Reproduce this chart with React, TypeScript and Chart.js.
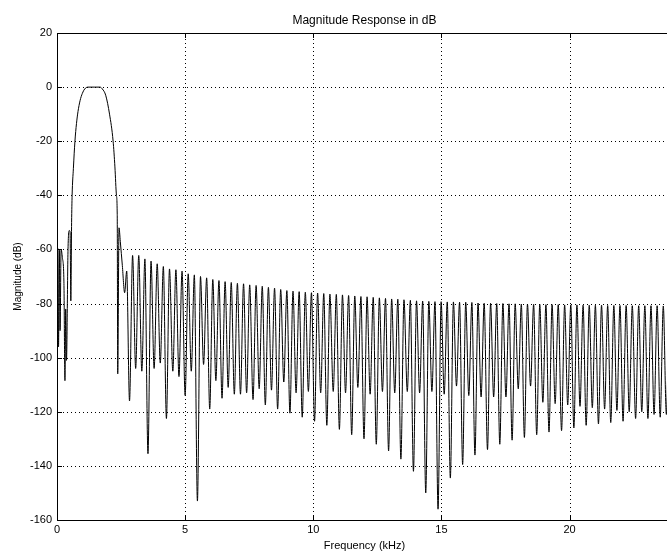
import React, { useEffect, useRef } from "react";
import { Chart, registerables } from "chart.js";

Chart.register(...registerables);

const chartTitle = "Magnitude Response in dB";
const xTitle = "Frequency (kHz)";
const yTitle = "Magnitude (dB)";
const xTicks = [0, 5, 10, 15, 20];
const yTicks = [20, 0, -20, -40, -60, -80, -100, -120, -140, -160];

// passband and the region around it (kHz / dB)
const mainFreq = [
  0.0, 0.03, 0.06, 0.09, 0.12, 0.16, 0.21, 0.27, 0.31, 0.34, 0.37, 0.43, 0.48, 0.51,
  0.54, 0.57, 0.59, 0.64, 0.7, 0.76, 0.82, 0.9, 0.99, 1.08, 1.2, 1.45, 1.68, 1.77,
  1.9, 2.05, 2.19, 2.26, 2.32, 2.35, 2.37, 2.42, 2.47, 2.55, 2.64, 2.72,
];
const mainDb = [
  -60.5, -59.5, -96, -60, -90, -60, -63, -72, -108.5, -82, -101, -60, -53, -53.5,
  -79, -50, -40, -30, -20, -13.5, -9, -5, -2.3, -0.7, 0, 0, 0, -0.7,
  -3, -10, -20, -29.5, -40, -47, -106, -52, -57, -66, -76, -68,
];

// stopband nulls (kHz / dB)
const nullFreq = [
  2.83, 3.07, 3.31, 3.55, 3.79, 4.03, 4.27, 4.52, 4.76, 5.0, 5.24, 5.48, 5.72, 5.96,
  6.2, 6.44, 6.68, 6.92, 7.16, 7.4, 7.65, 7.89, 8.13, 8.37, 8.61, 8.85, 9.09, 9.33,
  9.57, 9.81, 10.05, 10.29, 10.53, 10.78, 11.02, 11.26, 11.5, 11.74, 11.98, 12.22, 12.46, 12.7,
  12.94, 13.18, 13.42, 13.67, 13.91, 14.15, 14.39, 14.63, 14.87, 15.11, 15.35, 15.59, 15.83, 16.07,
  16.31, 16.55, 16.8, 17.04, 17.28, 17.52, 17.76, 18.0, 18.24, 18.48, 18.72, 18.96, 19.2, 19.44,
  19.69, 19.93, 20.17, 20.41, 20.65, 20.89, 21.13, 21.37, 21.61, 21.85, 22.09, 22.33, 22.58, 22.82,
  23.06, 23.3, 23.54, 23.78, 24.02,
];
const nullDb = [
  -116, -104, -105, -135.5, -104, -102, -122.5, -105, -107, -114, -105, -153, -102.5, -119,
  -108.5, -115, -111, -113.5, -113.5, -113, -115.5, -111.5, -117.5, -112, -119, -109, -120.5, -113,
  -122, -112.5, -123.5, -113, -125, -112.5, -126.5, -113, -128.5, -111, -130, -113.5, -132, -112.5,
  -134.5, -113, -137.5, -112.5, -142, -113, -150, -112.5, -156, -113.5, -144.5, -110.5, -139.5, -114,
  -136, -114.5, -134, -114.5, -132, -114.5, -130.5, -111.5, -129.5, -110.5, -128.5, -116.5, -127.5, -117,
  -127, -117.5, -126, -118, -125, -118.5, -124.5, -119, -124, -119.5, -123.5, -120, -122.5, -120,
  -122.5, -121, -122, -121, -121.5,
];

// stopband lobe peaks (kHz / dB)
const peakFreq = [
  2.95, 3.19, 3.43, 3.67, 3.91, 4.15, 4.39, 4.64, 4.88, 5.12, 5.36, 5.6, 5.84, 6.08,
  6.32, 6.56, 6.8, 7.04, 7.28, 7.52, 7.77, 8.01, 8.25, 8.49, 8.73, 8.97, 9.21, 9.45,
  9.69, 9.93, 10.17, 10.41, 10.65, 10.9, 11.14, 11.38, 11.62, 11.86, 12.1, 12.34, 12.58, 12.82,
  13.06, 13.3, 13.54, 13.79, 14.03, 14.27, 14.51, 14.75, 14.99, 15.23, 15.47, 15.71, 15.95, 16.19,
  16.43, 16.67, 16.92, 17.16, 17.4, 17.64, 17.88, 18.12, 18.36, 18.6, 18.84, 19.08, 19.32, 19.56,
  19.81, 20.05, 20.29, 20.53, 20.77, 21.01, 21.25, 21.49, 21.73, 21.97, 22.21, 22.45, 22.7, 22.94,
  23.18, 23.42, 23.66, 23.9,
];
const peakDb = [
  -62.2, -62.2, -63.5, -64.3, -65.3, -66.3, -67.2, -67.5, -68, -69, -69.4, -70, -70.5, -71.1,
  -71.5, -71.9, -72.2, -72.5, -72.7, -73.1, -73.3, -73.6, -74, -74.3, -74.8, -75.2, -75.4, -75.6,
  -75.8, -76, -76.1, -76.3, -76.5, -76.6, -76.8, -77, -77.2, -77.4, -77.5, -77.7, -77.9, -78.1,
  -78.3, -78.4, -78.6, -78.8, -79, -79.1, -79.2, -79.3, -79.3, -79.4, -79.4, -79.5, -79.5, -79.6,
  -79.8, -79.9, -79.9, -80, -80, -80.1, -80.1, -80.2, -80.2, -80.3, -80.3, -80.4, -80.4, -80.4,
  -80.5, -80.5, -80.5, -80.6, -80.6, -80.6, -80.6, -80.7, -80.7, -80.7, -80.7, -80.8, -80.8, -80.8,
  -80.8, -80.8, -80.9, -80.9,
];

const FONT = "'Liberation Sans', Arial, Helvetica, sans-serif";

const framePlugin = {
  id: "matlabFrame",
  beforeDatasetsDraw(chart: any) {
    const { ctx, chartArea, scales } = chart;
    const { left, right, top, bottom } = chartArea;
    ctx.save();
    ctx.fillStyle = "#000";
    for (const v of yTicks) {
      const py = Math.round(scales.y.getPixelForValue(v));
      if (py <= top + 1 || py >= bottom - 1) continue;
      for (let x = Math.round(left) + 2; x < right; x += 4) ctx.fillRect(x, py, 1, 1);
    }
    for (const v of xTicks) {
      const px = Math.round(scales.x.getPixelForValue(v));
      if (px <= left + 1 || px >= right - 1) continue;
      for (let y = Math.round(top) + 2; y < bottom; y += 4) ctx.fillRect(px, y, 1, 1);
    }
    ctx.restore();
  },
  afterDatasetsDraw(chart: any) {
    const { ctx, chartArea, scales } = chart;
    const L = Math.round(chartArea.left);
    const R = Math.round(chartArea.right);
    const T = Math.round(chartArea.top);
    const B = Math.round(chartArea.bottom);
    ctx.save();
    ctx.strokeStyle = "#000";
    ctx.lineWidth = 1;
    ctx.beginPath();
    ctx.rect(L + 0.5, T + 0.5, R - L, B - T);
    ctx.stroke();
    const tl = 5;
    ctx.beginPath();
    for (const v of xTicks) {
      const px = Math.round(scales.x.getPixelForValue(v)) + 0.5;
      ctx.moveTo(px, B);
      ctx.lineTo(px, B - tl);
      ctx.moveTo(px, T);
      ctx.lineTo(px, T + tl);
    }
    for (const v of yTicks) {
      const py = Math.round(scales.y.getPixelForValue(v)) + 0.5;
      ctx.moveTo(L, py);
      ctx.lineTo(L + tl, py);
      ctx.moveTo(R, py);
      ctx.lineTo(R - tl, py);
    }
    ctx.stroke();
    ctx.restore();
  },
  afterDraw(chart: any) {
    const { ctx, chartArea } = chart;
    const cx = (chartArea.left + chartArea.right) / 2;
    const cy = (chartArea.top + chartArea.bottom) / 2;
    ctx.save();
    ctx.fillStyle = "#000";
    ctx.textAlign = "center";
    ctx.textBaseline = "middle";
    ctx.font = `12px ${FONT}`;
    ctx.fillText(chartTitle, cx, 21);
    ctx.font = `11px ${FONT}`;
    ctx.fillText(xTitle, cx, 546);
    ctx.translate(18, cy);
    ctx.rotate(-Math.PI / 2);
    ctx.font = `10px ${FONT}`;
    ctx.fillText(yTitle, 0, 0);
    ctx.restore();
  },
};

export default function App() {
  const ref = useRef<HTMLCanvasElement>(null);

  useEffect(() => {
    const pts = [
      ...mainFreq.map((x, i) => ({ x, y: mainDb[i] })),
      ...nullFreq.map((x, i) => ({ x, y: nullDb[i] })),
      ...peakFreq.map((x, i) => ({ x, y: peakDb[i] })),
    ].sort((a, b) => a.x - b.x);

    const chart = new Chart(ref.current as HTMLCanvasElement, {
      type: "line",
      data: {
        datasets: [
          {
            data: pts,
            borderColor: "#000",
            borderWidth: 1,
            pointRadius: 0,
            cubicInterpolationMode: "monotone",
            fill: false,
          },
        ],
      },
      options: {
        animation: false,
        responsive: false,
        devicePixelRatio: 1,
        events: [],
        layout: { padding: { top: 33, right: 8, left: 0, bottom: 0 } },
        plugins: {
          legend: { display: false },
          tooltip: { enabled: false },
          title: { display: false },
        },
        scales: {
          x: {
            type: "linear",
            min: 0,
            max: 24,
            afterBuildTicks: (s: any) => {
              s.ticks = xTicks.map((v) => ({ value: v }));
            },
            afterFit: (s: any) => {
              s.height = 36;
            },
            grid: { display: false, drawTicks: false },
            border: { display: false },
            ticks: {
              color: "#000",
              padding: 3,
              maxRotation: 0,
              autoSkip: false,
              font: { family: FONT, size: 11 },
            },
          },
          y: {
            type: "linear",
            min: -160,
            max: 20,
            afterBuildTicks: (s: any) => {
              s.ticks = yTicks.map((v) => ({ value: v }));
            },
            afterFit: (s: any) => {
              s.width = 57;
            },
            grid: { display: false, drawTicks: false },
            border: { display: false },
            ticks: {
              color: "#000",
              padding: 5,
              autoSkip: false,
              font: { family: FONT, size: 11 },
            },
          },
        },
      },
      plugins: [framePlugin],
    });
    return () => chart.destroy();
  }, []);

  return (
    <div
      style={{
        position: "fixed",
        left: 0,
        top: 0,
        width: 667,
        height: 556,
        overflow: "hidden",
        background: "#fff",
      }}
    >
      <canvas ref={ref} width={680} height={556} style={{ display: "block" }} />
    </div>
  );
}
